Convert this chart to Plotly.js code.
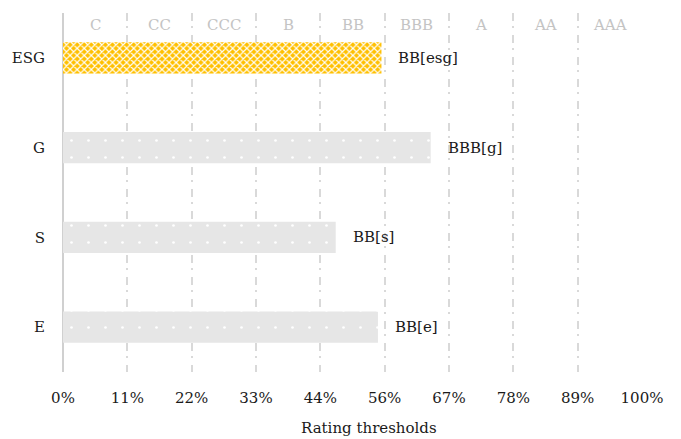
<!DOCTYPE html>
<html>
<head>
<meta charset="utf-8">
<script src="https://cdn.plot.ly/plotly-3.0.1.min.js"></script>
<style>html,body{margin:0;padding:0;background:#fff;}#chart{width:681px;height:439px;}</style>
</head>
<body>
<div id="chart"></div>
<script>
const categories = ['E', 'S', 'G', 'ESG'];
const scores = [54.4, 47.1, 63.5, 55.0];
const scoreLabels = ['BB[e]', 'BB[s]', 'BBB[g]', 'BB[esg]'];
const ratingBands = ['C', 'CC', 'CCC', 'B', 'BB', 'BBB', 'A', 'AA', 'AAA'];
const tickValues = [0, 100/9, 200/9, 300/9, 400/9, 500/9, 600/9, 700/9, 800/9, 100];
const tickLabels = ['0%', '11%', '22%', '33%', '44%', '56%', '67%', '78%', '89%', '100%'];

const FONT = 'DejaVu Serif, Liberation Serif, serif';
const gray = '#e6e6e6', orange = '#ffc000';

const barColors = categories.map(c => c === 'ESG' ? orange : gray);
const patShapes = categories.map(c => c === 'ESG' ? 'x' : '.');
const patSizes = categories.map(c => c === 'ESG' ? 5 : 17);
const patSolid = categories.map(c => c === 'ESG' ? 0.4 : 0.02);

const trace = {
  type: 'bar', orientation: 'h',
  x: scores, y: categories,
  width: 0.35,
  marker: {
    color: gray,
    line: {width: 0},
    pattern: {shape: patShapes, size: patSizes, solidity: patSolid, fgcolor: '#ffffff', fgopacity: 1, bgcolor: barColors, fillmode: 'replace'}
  },
  hoverinfo: 'skip'
};

const annotations = [];
scores.forEach((v, i) => {
  annotations.push({x: v, y: categories[i], xref: 'x', yref: 'y', text: scoreLabels[i], showarrow: false,
    xanchor: 'left', xshift: 15, font: {family: FONT, size: 15, color: '#1a1a1a'}});
});
ratingBands.forEach((r, k) => {
  annotations.push({x: (k + 0.5) * 100 / 9, y: 1, xref: 'x', yref: 'paper', text: r, showarrow: false,
    xanchor: 'center', yanchor: 'middle', yshift: -12, font: {family: FONT, size: 15, color: '#c4c4c4'}});
});
annotations.push({x: 0.528, y: 0, xref: 'paper', yref: 'paper', text: 'Rating thresholds', showarrow: false,
  xanchor: 'center', yanchor: 'middle', yshift: -56, font: {family: FONT, size: 15, color: '#1a1a1a'}});

const layout = {
  width: 681, height: 439,
  margin: {l: 63, r: 39, t: 13, b: 67},
  paper_bgcolor: '#ffffff', plot_bgcolor: '#ffffff',
  showlegend: false,
  font: {family: FONT, size: 15, color: '#1a1a1a'},
  xaxis: {
    range: [0, 100], tickvals: tickValues, ticktext: tickLabels,
    showgrid: true, gridcolor: '#d9d9d9', gridwidth: 2, griddash: '8px,5px,2px,7px',
    zeroline: true, zerolinecolor: '#d0d0d0', zerolinewidth: 2,
    showline: false, ticks: 'outside', ticklen: 12, tickcolor: 'rgba(0,0,0,0)',
    tickfont: {family: FONT, size: 15, color: '#1a1a1a'}, fixedrange: true
  },
  yaxis: {
    type: 'category', range: [-0.5, 3.5], showgrid: false, zeroline: false, showline: false,
    ticks: 'outside', ticklen: 14, tickcolor: 'rgba(0,0,0,0)',
    tickfont: {family: FONT, size: 15, color: '#1a1a1a'}, fixedrange: true
  },
  annotations: annotations
};

Plotly.newPlot('chart', [trace], layout, {displayModeBar: false, staticPlot: true});
</script>
</body>
</html>
